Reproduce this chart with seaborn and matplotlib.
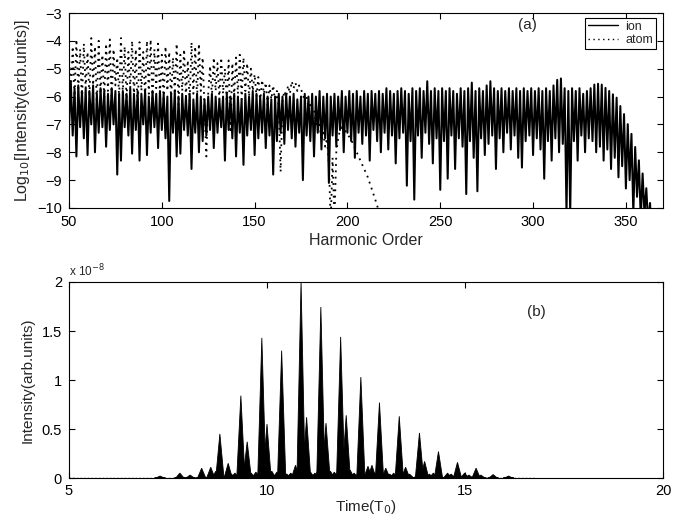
import matplotlib
matplotlib.use("Agg")
import matplotlib.pyplot as plt
import seaborn as sns
import numpy as np
import pandas as pd

#### values ####

# (a) log10 spectrum, one value per harmonic order starting at 50
ion_start = 50
ion_log = [
    -7.2, -5.5, -7.4, -5.7, -8.15, -5.6, -7.1, -5.8, -7.5, -5.7,    # 50
    -8.1, -5.8, -7.0, -5.6, -8.0, -5.9, -7.3, -5.7, -7.1, -5.8,     # 60
    -7.8, -5.9, -7.2, -5.7, -7.0, -5.8, -8.8, -5.9, -8.3, -5.8,     # 70
    -7.1, -5.9, -7.4, -5.7, -8.05, -5.9, -7.2, -5.8, -8.3, -5.9,    # 80
    -7.0, -5.8, -8.1, -6.0, -7.3, -5.8, -7.1, -5.9, -7.85, -5.8,    # 90
    -7.2, -5.9, -7.5, -6.0, -9.75, -5.9, -7.3, -5.8, -8.15, -6.0,   # 100
    -8.05, -5.9, -7.2, -6.0, -7.4, -5.9, -8.6, -6.1, -7.3, -5.9,    # 110
    -8.0, -6.0, -7.6, -6.1, -7.4, -6.0, -7.2, -5.9, -7.85, -6.0,    # 120
    -7.3, -6.1, -7.1, -6.0, -8.3, -5.9, -7.2, -6.0, -7.5, -5.9,     # 130
    -8.15, -6.0, -7.3, -6.1, -8.45, -5.9, -7.4, -6.0, -7.2, -5.8,   # 140
    -8.1, -5.9, -7.5, -6.0, -7.3, -5.9, -7.85, -6.0, -7.4, -6.1,    # 150
    -8.8, -6.0, -7.6, -5.9, -7.3, -6.0, -7.7, -5.9, -7.2, -6.0,     # 160
    -7.5, -5.9, -7.8, -6.1, -7.3, -6.0, -9.0, -5.9, -7.4, -6.0,     # 170
    -7.6, -5.9, -8.15, -6.0, -7.3, -5.8, -7.9, -6.0, -7.5, -5.9,    # 180
    -9.1, -6.0, -7.4, -5.9, -7.8, -6.0, -7.2, -5.8, -8.0, -6.0,     # 190
    -7.3, -5.8, -7.6, -5.9, -8.2, -5.8, -7.3, -6.0, -7.7, -5.8,     # 200
    -7.4, -5.9, -8.3, -5.8, -7.2, -5.9, -7.6, -5.8, -8.0, -5.9,     # 210
    -7.3, -5.7, -7.9, -5.8, -7.4, -5.9, -8.4, -5.8, -7.5, -5.7,     # 220
    -7.3, -5.8, -9.2, -5.9, -7.6, -5.7, -9.7, -5.8, -7.4, -5.7,     # 230
    -8.2, -5.8, -7.3, -5.45, -7.7, -5.8, -8.4, -5.7, -7.5, -5.8,    # 240
    -9.35, -5.7, -7.6, -5.8, -8.95, -5.7, -7.4, -5.8, -8.6, -5.9,   # 250
    -7.5, -5.7, -7.8, -5.8, -9.5, -5.7, -7.6, -5.5, -8.2, -5.8,     # 260
    -9.4, -5.7, -7.5, -5.8, -8.1, -5.6, -7.7, -5.45, -7.4, -5.7,    # 270
    -8.6, -5.8, -7.5, -5.7, -8.0, -5.8, -7.3, -5.7, -7.9, -5.8,     # 280
    -7.4, -5.7, -8.2, -5.8, -8.55, -5.7, -7.6, -5.8, -7.4, -5.7,    # 290
    -8.1, -5.8, -7.5, -5.7, -7.9, -5.8, -8.95, -5.7, -7.6, -5.8,    # 300
    -8.3, -5.6, -7.5, -5.4, -8.0, -5.35, -7.7, -5.7, -10.2, -5.8,   # 310
    -10.2, -5.7, -7.6, -5.8, -8.3, -5.7, -7.4, -5.9, -8.0, -5.8,    # 320
    -7.5, -5.7, -7.6, -5.57, -8.0, -5.54, -7.8, -5.57, -8.3, -5.69, # 330
    -7.9, -5.8, -8.6, -5.92, -8.2, -6.04, -8.9, -6.34, -8.5, -6.63, # 340
    -9.3, -6.99, -9.0, -7.34, -10.2, -7.81, -9.6, -8.29, -10.4, -8.76,  # 350
    -10.2, -9.29, -10.6, -9.82, -11.0, -10.4, -11.0,                # 360
]

atom_start = 50
atom_log = [
    -4.5, -5.9, -4.2, -6.1, -3.95, -5.8, -4.3, -6.2, -4.1, -5.7,    # 50
    -4.4, -6.0, -3.9, -5.6, -4.2, -6.3, -4.0, -5.9, -4.5, -6.1,     # 60
    -4.1, -5.8, -3.95, -6.2, -4.3, -5.6, -4.6, -6.0, -3.9, -5.9,    # 70
    -4.2, -6.2, -4.4, -5.7, -4.0, -6.0, -4.3, -6.6, -4.05, -5.8,    # 80
    -4.4, -6.1, -4.0, -5.9, -3.95, -6.3, -4.3, -5.7, -4.1, -6.0,    # 90
    -4.5, -6.2, -4.2, -5.8, -4.4, -6.1, -4.6, -5.9, -4.1, -6.3,     # 100
    -4.5, -5.8, -4.3, -6.0, -4.7, -6.2, -4.05, -5.9, -4.2, -6.1,    # 110
    -4.1, -5.8, -4.6, -6.4, -8.15, -5.9, -4.9, -6.0, -4.6, -5.8,    # 120
    -4.8, -6.1, -4.6, -5.9, -5.0, -6.2, -4.7, -7.3, -4.8, -6.0,     # 130
    -4.6, -5.9, -4.5, -6.1, -4.6, -5.8, -4.8, -6.0, -5.0, -5.8,     # 140
    -5.2, -6.0, -5.3, -6.2, -5.4, -5.9, -5.5, -6.3, -5.6, -6.1,     # 150
    -5.6, -6.2, -5.8, -6.4, -8.7, -6.2, -5.8, -6.0, -5.6, -5.9,     # 160
    -5.45, -5.7, -5.5, -5.8, -5.6, -5.75, -5.9, -6.2, -6.0, -6.4,   # 170
    -6.2, -6.6, -6.5, -6.9, -7.2, -7.0, -7.6, -7.3, -7.8, -7.5,     # 180
    -8.4, -10.5, -8.2, -10.5, -8.0, -7.5, -7.2, -7.1, -7.15, -7.25, # 190
    -7.35, -7.45, -7.55, -7.7, -7.85, -8.0, -8.15, -8.3, -8.45, -8.6,  # 200
    -8.75, -8.9, -9.1, -9.3, -9.5, -9.7, -9.9, -10.2,               # 210
]

# (b) time profile: burst positions (T0) and heights (x 1e-8)
peak_time = [7.3, 7.8, 8.06, 8.35, 8.58, 8.71, 8.81, 9.02, 9.1, 9.19,
             9.34, 9.5, 9.6, 9.72, 9.78, 9.87, 10.0, 10.08, 10.12, 10.25,
             10.37, 10.5, 10.6, 10.72, 10.86, 11.0, 11.1, 11.21, 11.28, 11.36,
             11.49, 11.6, 11.7, 11.86, 12.0, 12.1, 12.2, 12.37, 12.55, 12.65,
             12.72, 12.84, 13.0, 13.1, 13.2, 13.34, 13.5, 13.6, 13.85, 13.98,
             14.1, 14.2, 14.33, 14.56, 14.65, 14.81, 14.99, 15.1, 15.28, 15.4,
             15.71, 16.1]
peak_height = [0.02, 0.05, 0.03, 0.10, 0.11, 0.07, 0.45, 0.15, 0.04, 0.05,
               0.84, 0.37, 0.05, 0.06, 0.04, 1.43, 0.55, 0.05, 0.07, 0.06,
               1.30, 0.04, 0.05, 0.13, 2.0, 0.62, 0.06, 0.05, 0.05, 1.745,
               0.56, 0.07, 0.06, 1.44, 0.64, 0.08, 0.05, 1.03, 0.12, 0.13,
               0.05, 0.77, 0.10, 0.04, 0.05, 0.63, 0.11, 0.04, 0.46, 0.17,
               0.04, 0.05, 0.27, 0.05, 0.04, 0.16, 0.05, 0.03, 0.10, 0.03,
               0.035, 0.02]

#### plotting ####
sns.set_style("ticks")
plt.rcParams['font.family'] = ['Liberation Sans', 'DejaVu Sans']
plt.rcParams['axes.linewidth'] = 0.8

df_ion = pd.DataFrame({"order": np.arange(ion_start, ion_start + len(ion_log)), "logI": ion_log})
df_atom = pd.DataFrame({"order": np.arange(atom_start, atom_start + len(atom_log)), "logI": atom_log})

fig = plt.figure(figsize=(6.81, 5.18), dpi=100)
ax1 = fig.add_axes([0.1013, 0.5985, 0.8723, 0.3764])
ax2 = fig.add_axes([0.1013, 0.0772, 0.8723, 0.3784])

sns.lineplot(data=df_ion, x="order", y="logI", ax=ax1, color="black", lw=1.45,
             estimator=None, sort=False, label="ion")
sns.lineplot(data=df_atom, x="order", y="logI", ax=ax1, color="black", lw=1.3,
             ls=(0, (1, 2.5)), estimator=None, sort=False, label="atom")
ax1.set_xlim(50, 370)
ax1.set_ylim(-10, -3)
ax1.set_xticks([50, 100, 150, 200, 250, 300, 350])
ax1.set_yticks(range(-10, -2))
ax1.set_xlabel("Harmonic Order", fontsize=11.5, labelpad=3)
ax1.set_ylabel("Log$_{10}$[Intensity(arb.units)]", fontsize=11.5, labelpad=4)
ax1.text(297, -3.44, "(a)", fontsize=11, ha="center", va="center")
leg = ax1.legend(loc="upper right", bbox_to_anchor=(0.989, 0.976), borderaxespad=0,
                 fancybox=False, edgecolor="black", fontsize=9, handlelength=2.4,
                 borderpad=0.25, labelspacing=0.1, handletextpad=0.6)
leg.get_frame().set_linewidth(0.8)
leg.get_frame().set_alpha(1)
for ln in leg.get_lines():
    ln.set_linewidth(1.0)

# (b) each burst drawn as a narrow triangular spike
for t, h in zip(peak_time, peak_height):
    w = 0.1
    xs = [t - 1.4 * w, t - w, t, t + w, t + 1.4 * w]
    ys = [0, 0.04 * h, h, 0.04 * h, 0]
    ax2.fill(xs, ys, color="black", lw=0.6)
sns.lineplot(x=[5, 16.8], y=[0, 0], ax=ax2, color="black", lw=1.0, ls=":")
ax2.set_xlim(5, 20)
ax2.set_ylim(0, 2)
ax2.set_xticks([5, 10, 15, 20])
ax2.set_yticks([0, 0.5, 1, 1.5, 2])
ax2.set_yticklabels(["0", "0.5", "1", "1.5", "2"])
ax2.set_xlabel("Time(T$_0$)", fontsize=11, labelpad=0.5)
ax2.set_ylabel("Intensity(arb.units)", fontsize=11, labelpad=5)
ax2.text(0.0, 1.015, "x 10$^{-8}$", transform=ax2.transAxes, fontsize=8.5, ha="left", va="bottom")
ax2.text(16.8, 1.69, "(b)", fontsize=11, ha="center", va="center")

for ax in (ax1, ax2):
    ax.tick_params(direction="in", top=True, right=True, length=4, width=0.8,
                   labelsize=10.5, colors="black", pad=5)
    for s in ax.spines.values():
        s.set_color("black")
        s.set_linewidth(0.8)
ax2.tick_params(axis="x", pad=4)

fig.savefig("out.png", dpi=100)
